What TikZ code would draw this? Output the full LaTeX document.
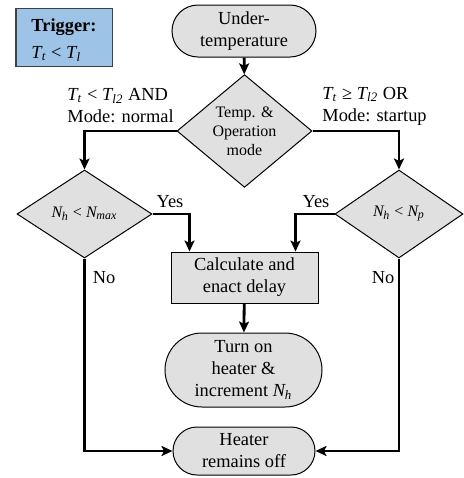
\documentclass[tikz,border=0pt]{standalone}
\usepackage{fontspec}
\setmainfont{Liberation Serif}
\usetikzlibrary{shapes.geometric,shapes.misc,arrows.meta}
\definecolor{nodegrey}{HTML}{E0E0E0}
\definecolor{trigblue}{HTML}{9DC3E6}
\definecolor{edgegrey}{HTML}{404040}
\newcommand{\vsub}[2]{\textit{#1}\textsubscript{\kern-0.5pt\textit{#2}}}
\begin{document}
\begin{tikzpicture}[x=0.5pt,y=-0.5pt,
  base/.style={draw=black,line width=0.5pt,fill=nodegrey,inner sep=1pt,align=center,
    font=\fontsize{9.2}{11}\selectfont},
  term/.style={base,rounded rectangle},
  proc/.style={base,rectangle},
  decide/.style={base,diamond,font=\fontsize{8}{9.5}\selectfont,inner sep=0pt},
  lbl/.style={font=\fontsize{9.2}{11}\selectfont,inner sep=0pt},
  flow/.style={line width=1.4pt,-{Stealth[length=5.5pt,width=5pt,inset=1.2pt]}},
  flowline/.style={line width=1.4pt}]
\useasboundingbox (0,0) rectangle (464,478);

\node[draw=edgegrey,line width=0.5pt,fill=trigblue,minimum width=48pt,minimum height=29pt,
  align=left,inner sep=0pt,font=\fontsize{9.2}{13.5}\selectfont] (trig) at (64,37)
  {\rule{0pt}{9.5pt}\textbf{Trigger:}\\ \vsub{T}{t} < \vsub{T}{l}};

\node[term,minimum width=74pt,minimum height=26pt] (under) at (244,31) {Under-\\temperature};
\node[decide,minimum width=67.5pt,minimum height=43pt] (op) at (244.5,131) {Temp. \&\\Operation\\mode};
\node[decide,minimum width=67.5pt,minimum height=44pt] (ld) at (84.5,214) {\vsub{N}{h} < \vsub{N}{max}};
\node[decide,minimum width=64pt,minimum height=44pt] (rd) at (399,214) {\vsub{N}{h} < \vsub{N}{p}};
\node[proc,minimum width=73.5pt,minimum height=25.5pt] (calc) at (244.5,277.5) {Calculate and\\enact delay};
\node[term,minimum width=80.5pt,minimum height=37pt] (on) at (243.5,370) {Turn on\\heater \&\\increment \vsub{N}{h}};
\node[term,minimum width=73pt,minimum height=24pt] (off) at (244,451) {Heater\\remains off};

\node[lbl,align=left,anchor=west] (ltxt) at (67,106) {\vsub{T}{t} < \vsub{T}{l2} AND\\Mode: normal};
\node[lbl,align=left,anchor=west] (rtxt) at (322,106) {\vsub{T}{t} ≥ \vsub{T}{l2} OR\\Mode: startup};
\node[lbl] (lyes) at (170,202) {Yes};
\node[lbl] (ryes) at (316,202) {Yes};
\node[lbl] (lno) at (104,278) {No};
\node[lbl] (rno) at (383,278) {No};

\coordinate (cl) at ([xshift=9.5pt]calc.north west);
\coordinate (cr) at ([xshift=-11.5pt]calc.north east);

\draw[flow] (under) -- (op);
\draw[flow] (op.west) -| (ld.north);
\draw[flow] (op.east) -| (rd.north);
\draw[flow] (ld.east) -| (cl);
\draw[flow] (rd.west) -| (cr);
\draw[flow] (calc) -- (on);
\draw[flow] (ld.south) |- (off.west);
\draw[flow] (rd.south) |- (off.east);
\end{tikzpicture}
\end{document}
